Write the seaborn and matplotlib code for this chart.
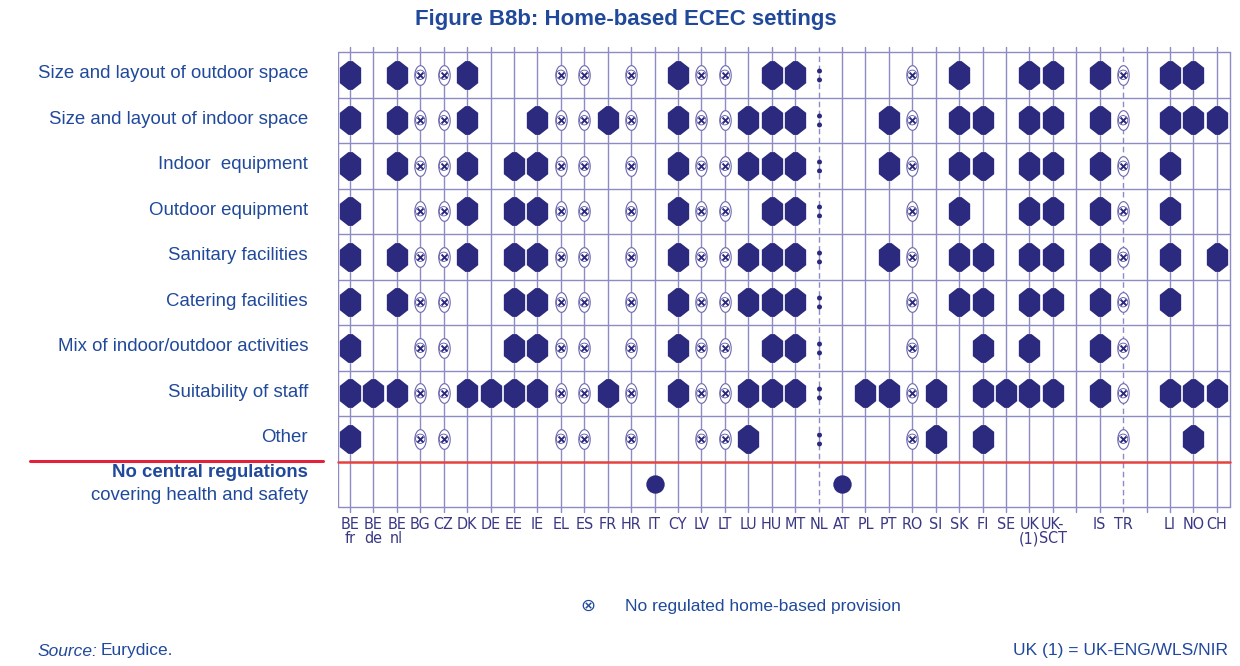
import numpy as np
import pandas as pd
import matplotlib
matplotlib.use("Agg")
import matplotlib.pyplot as plt
import seaborn as sns
from matplotlib.path import Path
from matplotlib.lines import Line2D
from matplotlib.transforms import blended_transform_factory

# ---------------- data ----------------
countries = ["BE\nfr", "BE\nde", "BE\nnl", "BG", "CZ", "DK", "DE", "EE", "IE", "EL",
             "ES", "FR", "HR", "IT", "CY", "LV", "LT", "LU", "HU", "MT",
             "NL", "AT", "PL", "PT", "RO", "SI", "SK", "FI", "SE", "UK\n(1)",
             "UK-\nSCT", "IS", "TR", "LI", "NO", "CH"]
gap_after = ["UK-\nSCT", "TR"]

criteria = ["Size and layout of outdoor space",
            "Size and layout of indoor space",
            "Indoor  equipment",
            "Outdoor equipment",
            "Sanitary facilities",
            "Catering facilities",
            "Mix of indoor/outdoor activities",
            "Suitability of staff",
            "Other",
            "No central regulations"]

# H = regulated, X = no regulated home-based provision, : = not available,
# O = no central regulations, - = nothing
outdoor_space    = list("H-HXXH---XX-X-HXX-HH:---X-H--HHHXHH-")
indoor_space     = list("H-HXXH--HXXHX-HXXHHH:--HX-HH-HHHXHHH")
indoor_equipment = list("H-HXXH-HHXX-X-HXXHHH:--HX-HH-HHHXH--")
outdoor_equip    = list("H--XXH-HHXX-X-HXX-HH:---X-H--HHHXH--")
sanitary         = list("H-HXXH-HHXX-X-HXXHHH:--HX-HH-HHHXH-H")
catering         = list("H-HXX--HHXX-X-HXXHHH:---X-HH-HHHXH--")
mix_activities   = list("H--XX--HHXX-X-HXX-HH:---X--H-H-HX---")
staff            = list("HHHXXHHHHXXHX-HXXHHH:-HHXH-HHHHHXHHH")
other            = list("H--XX----XX-X--XXH--:---XH-H----X-H-")
no_central       = list("-------------O-------O--------------")

rows = [outdoor_space, indoor_space, indoor_equipment, outdoor_equip, sanitary,
        catering, mix_activities, staff, other, no_central]

# ---------------- layout helpers ----------------
slot = {}
p = 0
for c in countries:
    slot[c] = p
    p += 1
    if c in gap_after:
        p += 1
n_slots = p

records = []
for r, codes in enumerate(rows):
    for c, code in zip(countries, codes):
        records.append({"country": c, "criterion": criteria[r], "code": code,
                        "x": slot[c], "y": r})
df = pd.DataFrame(records)

NAVY = "#2B2A7E"
GRID = "#8E8AC3"
BLUE = "#21499B"
LABEL = "#3A3883"
RED = "#E2223C"

sns.set_theme(style="white")
plt.rcParams["font.family"] = ["Liberation Sans", "DejaVu Sans"]

W, H = 1240, 666
fig = plt.figure(figsize=(W / 100, H / 100), dpi=100)
def fx(px): return px / W
def fy(py): return 1 - py / H

ax = fig.add_axes([fx(338), fy(507), (1230 - 338) / W, (507 - 52) / H])
ax.set_xlim(-0.51, n_slots - 0.44)
ax.set_ylim(9.5, -0.5)
for s in ax.spines.values():
    s.set_visible(False)

# grid lines
dashed = {slot["NL"], slot["TR"]}
for s in range(n_slots):
    ax.plot([s, s], [-0.62, 9.6], color=GRID, lw=1.0, zorder=1, clip_on=False,
            ls=(0, (4, 2.5)) if s in dashed else "-")
xl = ax.get_xlim()
for yb in [-0.5, 0.5, 1.5, 2.5, 3.5, 4.5, 5.5, 6.5, 7.5, 9.5]:
    ax.plot(xl, [yb, yb], color=GRID, lw=1.0, zorder=1, clip_on=False)
ax.plot([xl[0], xl[0]], [-0.5, 9.5], color=GRID, lw=1.0, zorder=1)
ax.plot([xl[1], xl[1]], [-0.5, 9.5], color=GRID, lw=1.0, zorder=1, clip_on=False)
ax.plot(xl, [8.5, 8.5], color="#E5433F", lw=1.8, zorder=2, clip_on=False)

# markers
hex_marker = Path([(0, 1.35), (0.2, 1.35), (1, 0.72), (1, -0.72), (0.2, -1.35),
                   (-0.2, -1.35), (-1, -0.72), (-1, 0.72), (-0.2, 1.35), (0, 1.35)],
                  closed=True)
t = np.linspace(0, 2 * np.pi, 60)
ellipse_marker = Path(np.c_[0.58 * np.cos(t), np.sin(t)], closed=True)
colon_marker = Path.make_compound_path(Path.circle((0, 0.25), 0.14),
                                       Path.circle((0, -0.25), 0.14))

sns.scatterplot(data=df[df.code == "H"], x="x", y="y", marker=hex_marker, s=430,
                color=NAVY, linewidth=0, ax=ax, zorder=3, legend=False)
xs = df[df.code == "X"]
sns.scatterplot(data=xs, x="x", y="y", marker=ellipse_marker, s=200,
                facecolor="white", edgecolor="#6C67AF", linewidth=0.8,
                ax=ax, zorder=3, legend=False)
sns.scatterplot(data=xs, x="x", y="y", marker="o", s=45, facecolor="none",
                edgecolor="#55519F", linewidth=0.6, ax=ax, zorder=4, legend=False)
sns.scatterplot(data=xs, x="x", y="y", marker="x", s=18, color=NAVY,
                linewidth=1.4, ax=ax, zorder=5, legend=False)
sns.scatterplot(data=df[df.code == ":"], x="x", y="y", marker=colon_marker, s=100,
                color=NAVY, linewidth=0, ax=ax, zorder=3, legend=False)
sns.scatterplot(data=df[df.code == "O"], x="x", y="y", marker="o", s=175,
                color=NAVY, linewidth=0, ax=ax, zorder=3, legend=False)

# axes labels / ticks
ax.set_xlabel("")
ax.set_ylabel("")
ax.set_yticks([])
ax.set_xticks([slot[c] for c in countries])
ax.set_xticklabels(countries, fontfamily=["Liberation Sans Narrow", "DejaVu Sans"],
                   fontstretch="condensed", fontsize=11.5, color=LABEL,
                   linespacing=0.95)
ax.tick_params(axis="x", length=0, pad=7)

trans = blended_transform_factory(fig.transFigure, ax.transData)
for r, name in enumerate(criteria[:-1]):
    ax.text(fx(308), r - 0.02, name, transform=trans, ha="right", va="center",
            fontsize=13.4, color=BLUE)
ax.text(fx(308), 9 - 0.25, "No central regulations", transform=trans, ha="right",
        va="center", fontsize=13.4, color=BLUE, fontweight="bold")
ax.text(fx(308), 9 + 0.25, "covering health and safety", transform=trans,
        ha="right", va="center", fontsize=13.4, color=BLUE)

fig.add_artist(Line2D([fx(30), fx(323)], [fy(461), fy(461)], color=RED, lw=2.2))

# title
fig.text(fx(626), fy(19), "Figure B8b: Home-based ECEC settings", ha="center",
         va="center", fontsize=16, fontweight="bold", color=BLUE)

# legend
fig.text(fx(588), fy(606), "\u2297", ha="center", va="center", fontsize=13,
         color=BLUE, family=["DejaVu Sans"])
fig.text(fx(625), fy(606), "No regulated home-based provision", ha="left",
         va="center", fontsize=12.5, color=BLUE)

# source
renderer = fig.canvas.get_renderer()
src = fig.text(fx(37), fy(651), "Source:", ha="left", va="center", fontsize=12.5,
               color=BLUE, style="italic")
bb = src.get_window_extent(renderer)
fig.text(bb.x1 / W + 4 / W, fy(651), "Eurydice.", ha="left", va="center",
         fontsize=12.5, color=BLUE)
fig.text(fx(1228), fy(651), "UK (1) = UK-ENG/WLS/NIR", ha="right", va="center",
         fontsize=12.5, color=BLUE)

fig.savefig("out.png", dpi=100)
